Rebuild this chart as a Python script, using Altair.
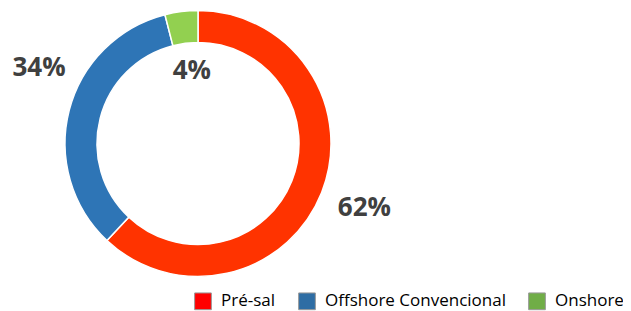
import altair as alt
import pandas as pd

categories = ["Pré-sal", "Offshore Convencional", "Onshore"]
shares = [62, 34, 4]
labels = ["62%", "34%", "4%"]
ring_colors = ["#FF3300", "#2E75B6", "#92D050"]
legend_colors = ["#FF0000", "#2E6DA4", "#70AD47"]

df = pd.DataFrame({"cat": categories, "share": shares, "label": labels,
                   "order": list(range(len(categories)))})

CX, CY = 190, 135.5
theta_scale = alt.Scale(domain=[0, 100])

base = alt.Chart(df).encode(x=alt.value(CX), y=alt.value(CY))

ring = base.mark_arc(innerRadius=101, outerRadius=133, stroke="white", strokeWidth=1.5).encode(
    theta=alt.Theta("share:Q", stack=True, scale=theta_scale),
    order=alt.Order("order:Q"),
    color=alt.Color("cat:N", scale=alt.Scale(domain=categories, range=ring_colors), legend=None),
)

legend_layer = base.mark_arc(innerRadius=0, outerRadius=0).encode(
    theta=alt.Theta("share:Q", stack=True, scale=theta_scale),
    order=alt.Order("order:Q"),
    color=alt.Color(
        "cat:N",
        scale=alt.Scale(domain=categories, range=legend_colors),
        legend=alt.Legend(
            orient="none", legendX=186, legendY=284, direction="horizontal",
            title=None, symbolType="square", symbolSize=280,
            symbolStrokeColor="#999999", symbolStrokeWidth=1, symbolOpacity=1,
            labelFont="Open Sans", labelFontSize=17, labelColor="#000000",
            labelOffset=9, columnPadding=20, labelLimit=300,
        ),
    ),
)

text_base = base.transform_window(
    cum="sum(share)", sort=[alt.SortField("order")]
).transform_calculate(mid="datum.cum - datum.share / 2")


def label_layer(cat, radius, dx, dy):
    return text_base.transform_filter(alt.datum.cat == cat).mark_text(
        radius=radius, dx=dx, dy=dy, font="Open Sans", fontWeight="bold",
        fontSize=26, color="#404040", align="center", baseline="middle",
    ).encode(
        theta=alt.Theta("mid:Q", scale=theta_scale),
        text="label:N",
    )


chart = alt.layer(
    ring,
    legend_layer,
    label_layer("Pré-sal", 179, 0, -1),
    label_layer("Offshore Convencional", 176, 11.5, -32),
    label_layer("Onshore", 73, 3, 0),
).resolve_scale(color="independent").properties(
    width=615, height=303, autosize=alt.AutoSizeParams(type="none"), padding=0,
).configure_view(stroke=None)

chart.save("out.html", embed_options={"renderer": "svg", "actions": False})
